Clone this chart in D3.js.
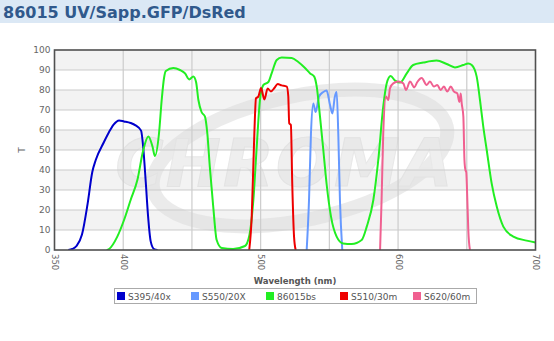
<!DOCTYPE html>
<html>
<head>
<meta charset="utf-8">
<script src="https://cdn.jsdelivr.net/npm/d3@7"></script>
<style>
  html, body { margin: 0; padding: 0; background: #ffffff; }
  svg { display: block; }
</style>
</head>
<body>
<svg id="chart" width="554" height="341"></svg>
<script>
// ---------- DATA ----------
const title = "86015 UV/Sapp.GFP/DsRed";
const xTickLabels = [350, 400, 500, 600, 700];
const xGridValues = [400, 450, 500, 550, 600, 650];
const yTickLabels = [0, 10, 20, 30, 40, 50, 60, 70, 80, 90, 100];

const seriesNames = ["S395/40x", "S550/20X", "86015bs", "S510/30m", "S620/60m"];
const seriesColors = ["#0000cc", "#6699ff", "#22ee22", "#ee0000", "#f06090"];

// S395/40x
const wlS395 = [360, 363, 366, 370, 374, 377.5, 380, 386, 389.7, 393, 397, 400.6, 405.4, 409, 413, 414.6, 416.4, 418, 420, 422.4, 425];
const tS395  = [0, 0.5, 2, 7.7, 22.7, 39, 45, 54, 59, 62.7, 64.8, 64.3, 63.5, 62.3, 59.7, 51, 34, 17.7, 4.3, 0.5, 0];

// S550/20X
const wlS550 = [533.5, 535.2, 536.6, 538.3, 540, 542.5, 545.6, 548, 550.5, 552.2, 554, 555.3, 556.5, 557.7, 559.4];
const tS550  = [0, 25, 58, 73.3, 69, 76.7, 79, 79.7, 72.5, 68.3, 76.7, 79, 58, 25, 0];

// 86015bs
const wl86015 = [388, 389.7, 395.7, 400.6, 405.4, 410.3, 414.6, 418.3, 421.2, 423.1, 426, 428, 429.7, 431, 436.5, 441.3, 445, 448, 451, 453, 454.7, 457, 459.5, 461.2, 463, 465.5, 468, 471.7, 480, 488.6, 491.7, 494.7, 497, 499.5, 502, 505.6, 508, 511.7, 515.3, 522.6, 527.4, 532.3, 536, 539, 540.8, 543.2, 545.6, 548, 551.2, 555.3, 560, 566.2, 573.5, 577.2, 582, 585.6, 589.2, 591.7, 594.6, 597.8, 601.4, 606.3, 611, 618.3, 628, 635.4, 641.4, 647.5, 651, 653.6, 657.2, 659.6, 662, 664.5, 668.1, 671.8, 676.6, 683.9, 693.6, 700];
const t86015  = [0, 0.5, 6.7, 15, 25, 35, 50, 56.7, 52, 47, 58, 75, 86, 89.5, 91, 90, 88.3, 85.3, 86.7, 84, 75, 69, 66.7, 58.3, 41.7, 21.7, 5, 1, 0.5, 2, 7, 25, 50, 75, 82.5, 84, 88.3, 95, 96.3, 96, 94, 91, 88.3, 86.7, 81.7, 66.7, 50, 33, 16.7, 6.7, 3.3, 3, 5, 11.7, 25, 45, 71.7, 83.3, 87, 84.7, 83.7, 88.3, 92.5, 93.7, 94.7, 93, 91.3, 92.5, 93.3, 92.5, 86.7, 75, 61.7, 50, 33.3, 21.7, 11.7, 6.7, 4.7, 3.8];

// S510/30m
const wlS510 = [491.7, 493.5, 495.4, 496.6, 498.3, 500.3, 502.7, 505.1, 507.5, 510, 512.4, 515.3, 519, 520.1, 520.8, 522, 523, 524.3, 525.5];
const tS510  = [0, 16.7, 58, 75.8, 76.7, 81, 75.3, 80.7, 79.3, 81, 83, 82.3, 81.7, 77, 63.3, 62.5, 33, 6.7, 0];

// S620/60m
const wlS620 = [586.9, 588, 589.2, 591.2, 592.9, 594.1, 596.5, 600.2, 603.8, 605.8, 608.7, 611.8, 614, 617.2, 620.8, 623.2, 626.1, 628.5, 631, 633.4, 635.8, 638.3, 640.7, 643.1, 644.6, 645.6, 646.3, 647.5, 648.3, 649, 649.6, 650.4, 651.1, 652.3];
const tS620  = [0, 25, 58, 76.7, 75, 80.8, 83.3, 84.2, 83.3, 80, 84.2, 81.3, 84, 86, 82.5, 84.2, 81.7, 82.5, 80, 81.7, 79.2, 81.7, 79.2, 78.3, 74, 78.3, 73.3, 66.7, 45, 40, 39, 25, 10, 0];

// ---------- CHART ----------
const svg = d3.select("#chart");
const W = 554, H = 341;
const plot = { left: 54.5, right: 535.5, top: 50, bottom: 250 };

const x = d3.scaleLinear().domain([350, 700]).range([plot.left, plot.right]);
const y = d3.scaleLinear().domain([0, 100]).range([plot.bottom, plot.top]);

// Title bar
svg.append("rect").attr("x", 0).attr("y", 0).attr("width", W).attr("height", 23)
  .attr("fill", "#dbe8f5");
svg.append("text").attr("x", 3).attr("y", 17.5)
  .attr("font-family", "DejaVu Sans, Verdana, sans-serif")
  .attr("font-weight", "bold").attr("font-size", 16)
  .attr("fill", "#30598c").text(title);

// Alternating bands
const bands = d3.range(0, 100, 10);
svg.append("g").selectAll("rect").data(bands).join("rect")
  .attr("x", plot.left).attr("width", plot.right - plot.left)
  .attr("y", d => y(d + 10)).attr("height", d => y(d) - y(d + 10))
  .attr("fill", d => ((d / 10) % 2 === 1) ? "#f3f3f3" : "#ffffff");

// Watermark
const wm = svg.append("g").attr("opacity", 0.55);
wm.append("ellipse").attr("cx", 300).attr("cy", 158).attr("rx", 150).attr("ry", 62)
  .attr("transform", "rotate(-12 300 158)")
  .attr("fill", "none").attr("stroke", "#dcdcdc").attr("stroke-width", 14);
wm.append("text").attr("x", 285).attr("y", 186)
  .attr("text-anchor", "middle")
  .attr("font-family", "DejaVu Sans, sans-serif").attr("font-weight", "bold")
  .attr("font-style", "italic").attr("font-size", 66).attr("letter-spacing", 2)
  .attr("fill", "#e2e2e2").attr("stroke", "#d6d6d6").attr("stroke-width", 1)
  .text("CHROMA");

// Grid lines
const grid = svg.append("g");
grid.selectAll("line.h").data(yTickLabels.filter(d => d > 0 && d < 100)).join("line")
  .attr("x1", plot.left).attr("x2", plot.right)
  .attr("y1", d => y(d)).attr("y2", d => y(d))
  .attr("stroke", "#cccccc").attr("stroke-width", 1.2);
grid.selectAll("line.v").data(xGridValues).join("line")
  .attr("y1", plot.top).attr("y2", plot.bottom)
  .attr("x1", d => x(d)).attr("x2", d => x(d))
  .attr("stroke", "#cccccc").attr("stroke-width", 1.2);

// Series
const series = [
  { wl: wlS395, t: tS395 },
  { wl: wlS550, t: tS550 },
  { wl: wl86015, t: t86015 },
  { wl: wlS510, t: tS510 },
  { wl: wlS620, t: tS620 }
];
const line = d3.line().x(d => x(d[0])).y(d => y(d[1])).curve(d3.curveMonotoneX);
const clip = svg.append("clipPath").attr("id", "clip").append("rect")
  .attr("x", plot.left).attr("y", plot.top - 2)
  .attr("width", plot.right - plot.left).attr("height", plot.bottom - plot.top + 2);
const lines = svg.append("g").attr("clip-path", "url(#clip)");
series.forEach((s, i) => {
  const pts = s.wl.map((w, j) => [w, s.t[j]]);
  lines.append("path").attr("d", line(pts))
    .attr("fill", "none").attr("stroke", seriesColors[i])
    .attr("stroke-width", 2).attr("stroke-linejoin", "round");
});

// Frame
svg.append("rect").attr("x", plot.left).attr("y", plot.top)
  .attr("width", plot.right - plot.left).attr("height", plot.bottom - plot.top)
  .attr("fill", "none").attr("stroke", "#505050").attr("stroke-width", 1.6);

// Y axis
const yAxis = d3.axisLeft(y).tickValues(yTickLabels).tickSize(0).tickPadding(4);
const gy = svg.append("g").attr("transform", `translate(${plot.left},0)`).call(yAxis);
gy.select(".domain").remove();
gy.selectAll("text").attr("font-family", "DejaVu Sans, Verdana, sans-serif")
  .attr("font-size", 9).attr("fill", "#666666");

// X axis
const xAxis = d3.axisBottom(x).tickValues(xTickLabels).tickSize(0).tickPadding(0);
const gx = svg.append("g").attr("transform", `translate(0,${plot.bottom})`).call(xAxis);
gx.select(".domain").remove();
gx.selectAll("text")
  .attr("font-family", "DejaVu Sans, Verdana, sans-serif")
  .attr("font-size", 8.5).attr("fill", "#666666")
  .attr("text-anchor", "start").attr("dy", null).attr("y", 0)
  .attr("transform", "translate(-3,4) rotate(90)");

// Axis titles
svg.append("text").attr("transform", "translate(25,150) rotate(-90)")
  .attr("text-anchor", "middle")
  .attr("font-family", "DejaVu Sans, Verdana, sans-serif")
  .attr("font-size", 9).attr("fill", "#666666").text("T");
svg.append("text").attr("x", 295).attr("y", 284)
  .attr("text-anchor", "middle")
  .attr("font-family", "DejaVu Sans, Verdana, sans-serif")
  .attr("font-weight", "bold").attr("font-size", 8.5).attr("fill", "#555555")
  .text("Wavelength (nm)");

// Legend
const legend = svg.append("g");
legend.append("rect").attr("x", 114.5).attr("y", 288.5).attr("width", 362).attr("height", 15)
  .attr("fill", "#ffffff").attr("stroke", "#aaaaaa").attr("stroke-width", 1);
const legendX = [117, 191, 266, 340, 413];
seriesNames.forEach((n, i) => {
  legend.append("rect").attr("x", legendX[i]).attr("y", 292).attr("width", 8).attr("height", 8)
    .attr("fill", seriesColors[i]);
  legend.append("text").attr("x", legendX[i] + 11).attr("y", 299.5)
    .attr("font-family", "DejaVu Sans, Verdana, sans-serif")
    .attr("font-size", 9).attr("fill", "#555555").text(n);
});
</script>
</body>
</html>
